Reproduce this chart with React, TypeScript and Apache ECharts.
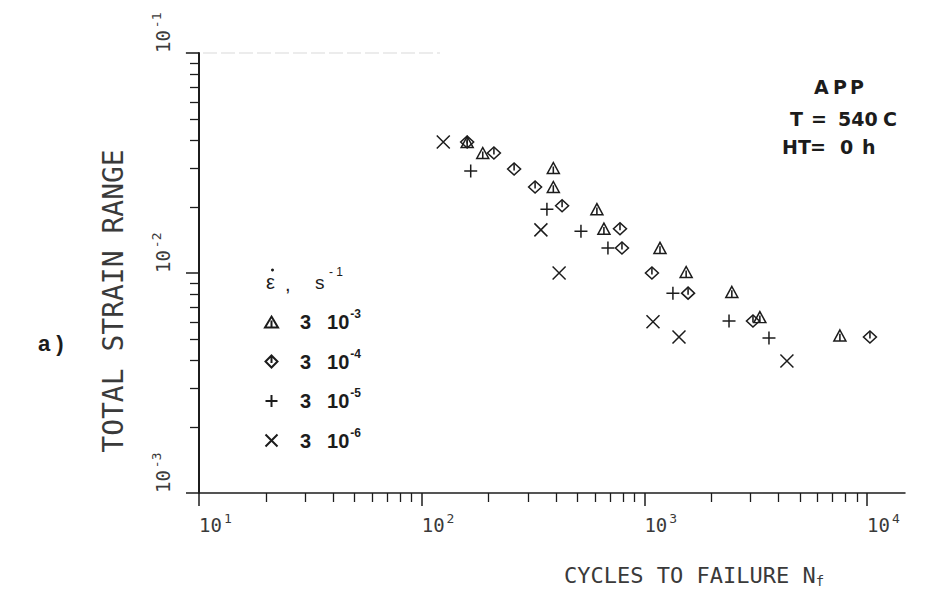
import React, { useEffect, useRef } from "react";
import * as echarts from "echarts";

// ---- tick values ----
const xMajorTicks = [10, 100, 1000, 10000];
const xMinorTicks = [20, 30, 40, 50, 60, 70, 80, 90, 200, 300, 400, 500, 600, 700, 800, 900, 2000, 3000, 4000, 5000, 6000, 7000, 8000, 9000];
const yMajorTicks = [0.001, 0.01, 0.1];
const yMinorTicks = [0.002, 0.003, 0.004, 0.005, 0.006, 0.007, 0.008, 0.009, 0.02, 0.03, 0.04, 0.05, 0.06, 0.07, 0.08, 0.09];

// ---- series (cycles to failure, total strain range) ----
const seriesNames = ["3 10-3", "3 10-4", "3 10-5", "3 10-6"];
const legendExponents = ["-3", "-4", "-5", "-6"];

const rate3e3: [number, number][] = [
  [160, 0.0394], [188, 0.0351], [390, 0.030], [390, 0.0246], [612, 0.0195], [658, 0.0159],
  [1175, 0.013], [1540, 0.0101], [2470, 0.0082], [3300, 0.0063], [7550, 0.0052],
];
const rate3e4: [number, number][] = [
  [160, 0.0394], [211, 0.0351], [260, 0.0297], [323, 0.0246], [427, 0.0202], [777, 0.0159],
  [793, 0.013], [1081, 0.01], [1571, 0.0081], [3073, 0.00605], [10300, 0.00512],
];
const rate3e5: [number, number][] = [
  [166, 0.0291], [365, 0.0195], [519, 0.0155], [686, 0.013], [1343, 0.0081], [2399, 0.00605], [3626, 0.00506],
];
const rate3e6: [number, number][] = [
  [125, 0.0394], [343, 0.0157], [414, 0.01], [1093, 0.006], [1430, 0.00512], [4366, 0.00398],
];

const seriesData = [rate3e3, rate3e4, rate3e5, rate3e6];

const symbols = [
  "path://M6,0L12,10L0,10Z M6,3.5L6,10",
  "path://M6,0L12,6L6,12L0,6Z M6,1.5L6,7.5",
  "path://M0,6L12,6M6,0L6,12",
  "path://M0,0L12,12M12,0L0,12",
];
const symbolSizes: any[] = [[12, 11], [13, 12], 13, 13];

const INK = "#1c1c1c";
const PLOT_FONT = "'DejaVu Sans Mono', monospace";
const PLOT_INK = "#3a3a3a";
const BOLD_FONT = "'DejaVu Sans', sans-serif";
const LEG_FONT = "'Liberation Sans', Arial, sans-serif";

export default function App() {
  const ref = useRef<HTMLDivElement>(null);

  useEffect(() => {
    document.body.style.margin = "0";
    if (!ref.current) return;
    const chart = echarts.init(ref.current, undefined, { renderer: "svg" });

    const axisRich = {
      b: { fontFamily: PLOT_FONT, fontSize: 19, color: PLOT_INK, lineHeight: 22, padding: [5, 2, 0, 0], verticalAlign: "bottom" },
      s: { fontFamily: PLOT_FONT, fontSize: 13, color: PLOT_INK, lineHeight: 15, verticalAlign: "top" },
    };
    const expFormatter = (v: number) => {
      const e = Math.round(Math.log10(v));
      return `{b|10}{s|${e}}`;
    };

    const boldText = (text: string, x: number, y: number) => ({
      type: "text",
      x,
      y,
      style: {
        text,
        fontFamily: BOLD_FONT,
        fontWeight: "bold",
        fontSize: 19,
        fill: INK,
        align: "left",
        verticalAlign: "middle",
      },
    });

    const option: any = {
      animation: false,
      backgroundColor: "#ffffff",
      grid: { left: 199, top: 53, right: 21, bottom: 101, containLabel: false },
      xAxis: [
        {
          type: "log",
          logBase: 10,
          min: 10,
          max: 14800,
          position: "bottom",
          axisLine: { show: true, lineStyle: { color: INK, width: 1.5 } },
          axisTick: { show: true, inside: false, length: 13, customValues: xMajorTicks, lineStyle: { color: INK, width: 1.5 } },
          axisLabel: { show: true, customValues: xMajorTicks, formatter: expFormatter, rich: axisRich, align: "left", margin: 19 },
          splitLine: { show: false },
          minorTick: { show: false },
        },
        {
          type: "log",
          logBase: 10,
          min: 10,
          max: 14800,
          position: "bottom",
          axisLine: { show: false },
          axisTick: { show: true, inside: false, length: 9, customValues: xMinorTicks, lineStyle: { color: INK, width: 1.3 } },
          axisLabel: { show: false },
          splitLine: { show: false },
        },
      ],
      yAxis: [
        {
          type: "log",
          logBase: 10,
          min: 0.001,
          max: 0.1,
          position: "left",
          axisLine: { show: true, lineStyle: { color: INK, width: 2 } },
          axisTick: { show: true, inside: false, length: 13, customValues: yMajorTicks, lineStyle: { color: INK, width: 1.5 } },
          axisLabel: {
            show: true,
            customValues: yMajorTicks,
            formatter: expFormatter,
            rich: axisRich,
            rotate: 90,
            align: "left",
            verticalAlign: "bottom",
            margin: 27,
          },
          splitLine: { show: false },
          minorTick: { show: false },
        },
        {
          type: "log",
          logBase: 10,
          min: 0.001,
          max: 0.1,
          position: "left",
          axisLine: { show: false },
          axisTick: { show: true, inside: false, length: 9, customValues: yMinorTicks, lineStyle: { color: INK, width: 1.3 } },
          axisLabel: { show: false },
          splitLine: { show: false },
        },
      ],
      legend: {
        orient: "vertical",
        left: 259,
        top: 303,
        itemWidth: 13,
        itemHeight: 12,
        itemGap: 11.5,
        selectedMode: false,
        data: seriesNames,
        formatter: (name: string) => {
          const i = seriesNames.indexOf(name);
          return `{n|3}{b|10}{s|${legendExponents[i]}}`;
        },
        textStyle: {
          rich: {
            n: { fontFamily: LEG_FONT, fontWeight: "bold", fontSize: 20, color: INK, lineHeight: 22, padding: [0, 16, 0, 17] },
            b: { fontFamily: LEG_FONT, fontWeight: "bold", fontSize: 20, color: INK, lineHeight: 22, padding: [0, 1, 0, 0] },
            s: { fontFamily: LEG_FONT, fontWeight: "bold", fontSize: 12, color: INK, lineHeight: 14, padding: [0, 0, 16, 0] },
          },
        },
      },
      series: seriesData.map((d, i) => ({
        name: seriesNames[i],
        type: "scatter",
        xAxisIndex: 0,
        yAxisIndex: 0,
        data: d,
        symbol: symbols[i],
        symbolSize: symbolSizes[i],
        itemStyle: { color: "rgba(0,0,0,0)", borderColor: INK, borderWidth: 1.5, opacity: 1 },
        emphasis: { disabled: true },
      })),
      graphic: [
        // faint top frame line
        {
          type: "line",
          shape: { x1: 185, y1: 53, x2: 440, y2: 53 },
          style: { stroke: "#d9d9d9", lineWidth: 1, lineDash: [14, 4] },
        },
        // y axis title
        {
          type: "text",
          x: 113,
          y: 301,
          rotation: Math.PI / 2,
          style: {
            text: "TOTAL STRAIN RANGE",
            fontFamily: PLOT_FONT,
            fontSize: 28,
            fill: PLOT_INK,
            align: "center",
            verticalAlign: "middle",
          },
        },
        // x axis title
        {
          type: "text",
          x: 564,
          y: 576,
          style: {
            text: "{t|CYCLES TO FAILURE N}{u|f}",
            fill: PLOT_INK,
            align: "left",
            verticalAlign: "middle",
            rich: {
              t: { fontFamily: PLOT_FONT, fontSize: 22, fill: PLOT_INK, lineHeight: 24, padding: [0, 0, 3, 0], verticalAlign: "top" },
              u: { fontFamily: PLOT_FONT, fontSize: 14, fill: PLOT_INK, lineHeight: 16, verticalAlign: "bottom" },
            },
          },
        },
        // panel label
        {
          type: "text",
          x: 38,
          y: 343,
          style: { text: "a )", fontFamily: LEG_FONT, fontWeight: "bold", fontSize: 22, fill: INK, align: "left", verticalAlign: "middle" },
        },
        // annotation
        boldText("A", 814, 87),
        boldText("P", 833, 87),
        boldText("P", 850, 87),
        boldText("T", 790, 119),
        boldText("=", 811, 119),
        boldText("540", 838, 119),
        boldText("C", 883, 119),
        boldText("HT", 782, 147),
        boldText("=", 810, 147),
        boldText("0", 840, 147),
        boldText("h", 862, 147),
        // legend header: epsilon-dot, s^-1
        {
          type: "text",
          x: 266,
          y: 282,
          style: { text: "ε", fontFamily: LEG_FONT, fontSize: 20, fill: INK, align: "left", verticalAlign: "middle" },
        },
        { type: "circle", shape: { cx: 272.5, cy: 270, r: 1.5 }, style: { fill: INK } },
        {
          type: "text",
          x: 285,
          y: 284,
          style: { text: ",", fontFamily: LEG_FONT, fontSize: 20, fill: INK, align: "left", verticalAlign: "middle" },
        },
        {
          type: "text",
          x: 315,
          y: 282,
          style: { text: "s", fontFamily: LEG_FONT, fontSize: 19, fill: INK, align: "left", verticalAlign: "middle" },
        },
        {
          type: "text",
          x: 329,
          y: 272,
          style: { text: "- 1", fontFamily: LEG_FONT, fontSize: 12, fill: INK, align: "left", verticalAlign: "middle" },
        },
      ],
    };

    chart.setOption(option);
    return () => {
      chart.dispose();
    };
  }, []);

  return <div ref={ref} style={{ width: 926, height: 594 }} />;
}
